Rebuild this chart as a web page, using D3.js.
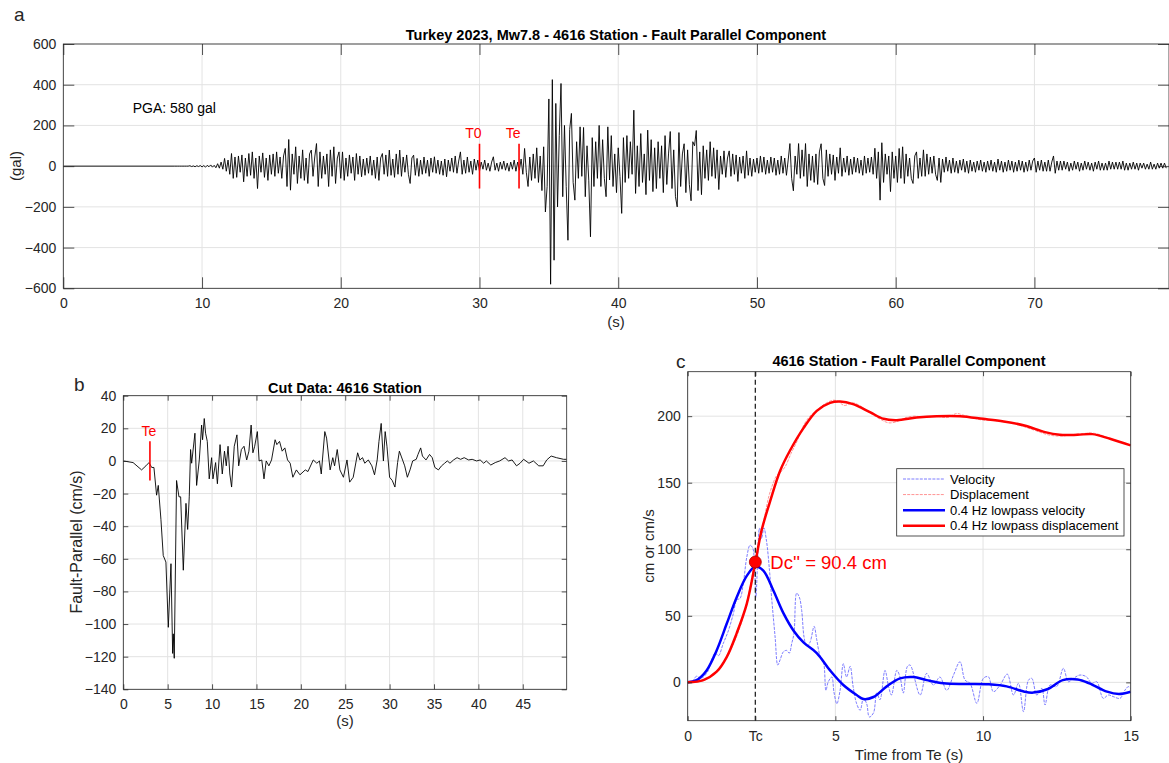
<!DOCTYPE html>
<html>
<head>
<meta charset="utf-8">
<script src="https://cdn.jsdelivr.net/npm/d3@7"></script>
<style>
  html, body { margin: 0; padding: 0; background: #fff; }
  svg { display: block; font-family: "Liberation Sans", Arial, Helvetica, sans-serif; }
  .tick text { fill: #262626; }
</style>
</head>
<body>
<svg id="fig" width="1169" height="763"></svg>
<script>
// ---- panel a: acceleration (gal), sampled every 0.125 s from t = 8 s ----
const accStart = 8;
const accStep = 0.125;
const accValues = [
  0,0,0,0,0,0,0,0,
  0,2,-2,1,-3,2,-2,3,
  -4,3,-5,4,-3,6,-5,4,
  -8,12,-10,20,-15,38,-25,30,
  -40,62,-60,45,-55,50,-30,55,
  -77,40,-50,62,-45,70,-60,40,
  -110,50,-30,65,-55,40,-70,55,
  -40,60,-50,70,-35,45,-60,50,
  87,-100,131,-118,60,-40,95,-85,
  50,-60,80,-70,40,-85,60,79,
  -50,45,111,-100,70,-60,50,-40,
  60,-100,80,-50,95,-85,40,70,
  -60,70,-70,40,-50,55,-35,45,
  -70,62,-40,50,-52,35,-45,40,
  -35,50,-45,30,-60,45,-70,40,
  62,-40,55,-50,79,-45,35,-55,
  60,-40,79,-50,45,-30,55,-40,
  -85,40,54,-45,38,-50,30,-40,
  45,-35,30,-50,40,-30,46,-35,
  30,-40,25,-45,35,-52,30,-25,
  40,-30,50,-35,25,70,-40,30,
  -35,45,-30,25,-40,35,-20,30,
  -25,20,-15,30,-20,15,-25,20,
  46,-20,15,-25,20,-15,25,-20,
  15,-25,20,-15,30,-25,20,-20,
  35,-40,87,-30,-100,45,-70,60,
  -60,90,-80,50,-120,95,-225,-100,
  330,-580,425,-462,308,-200,150,406,
  -150,200,-100,-364,180,259,-80,-167,
  120,-60,193,-50,190,-150,100,-69,
  -347,140,-100,120,-60,200,-100,130,
  -60,-150,193,-68,150,-100,60,-130,
  90,-50,-232,140,-80,150,-60,120,
  -40,275,-134,100,-100,160,-80,60,
  -140,177,-70,130,-125,90,-110,120,
  -60,100,-130,150,-90,60,170,-110,
  80,-150,-200,165,-100,60,110,-130,
  80,-90,-170,120,100,175,-120,70,
  -140,100,-60,80,-70,120,-50,90,
  -60,80,-115,50,-40,75,-55,40,
  75,-50,60,-40,55,-75,45,-35,
  50,-60,75,-45,40,-50,35,-30,
  40,-35,50,-30,45,-40,30,-35,
  45,-30,40,-45,30,-40,50,-35,
  40,-45,30,111,-60,-121,50,-40,
  111,-60,80,-50,111,-100,60,-70,
  50,-80,60,-90,70,110,-60,-95,
  80,-50,60,-40,55,-70,45,-35,
  90,-50,40,-30,50,-45,35,-40,
  45,-30,40,-35,30,-45,50,-35,
  40,-30,45,-40,88,-60,70,-167,
  115,-80,60,-40,50,-125,70,-60,
  50,-80,87,-60,95,-85,60,-50,
  40,-60,-85,50,70,-60,40,-50,
  80,-50,60,-40,45,-35,50,-40,
  -70,40,-80,35,-30,45,-25,30,
  -35,40,-30,25,-35,30,-20,35,
  -30,25,-35,30,-25,20,-30,25,
  -20,30,-25,20,-30,25,-20,30,
  -25,20,-30,35,-20,25,-30,20,
  -25,30,-20,25,-30,20,-25,30,
  -20,25,-30,20,-25,30,-20,25,
  40,-30,25,-20,30,-25,20,-25,
  30,-25,20,50,-35,25,-20,25,
  -20,25,-15,20,-25,15,-20,25,
  -15,20,-25,15,-20,25,-15,20,
  -20,15,-25,20,-15,25,-20,15,
  -20,15,-20,25,-15,20,-15,20,
  -15,20,-15,25,-20,15,-20,15,
  -15,20,-15,15,-20,15,-10,15,
  -15,10,-15,20,-15,10,-15,15,
  -10,15,-10,15,-10
];
const accMarkers = [{ name: "T0", t: 30 }, { name: "Te", t: 32.85 }];
const accXTicks = [0, 10, 20, 30, 40, 50, 60, 70];
const accYTicks = [-600, -400, -200, 0, 200, 400, 600];

// ---- panel b: cut velocity (cm/s) ----
const cutTime = [0,1.1,2.06,2.55,2.9,3.2,3.45,3.75,3.94,4.24,4.5,4.8,5.07,5.37,5.56,5.63,5.74,6.0,6.27,6.46,6.76,7.06,7.25,7.43,7.58,7.7,8.07,8.26,8.56,8.82,8.93,9.12,9.27,9.46,9.68,9.95,10.1,10.4,10.6,10.9,11.15,11.4,11.6,11.8,12.0,12.2,12.5,12.8,13.0,13.3,13.6,13.9,14.15,14.4,14.6,14.8,15.1,15.3,15.6,15.85,16.1,16.4,16.7,17.1,17.3,17.6,17.9,18.2,18.5,18.8,19.1,19.5,19.9,20.5,20.8,21.4,21.8,22.1,22.3,22.7,22.9,23.3,23.6,23.8,24.1,24.4,24.8,25.2,25.5,25.9,26.4,26.65,26.95,27.2,27.6,28.0,28.3,28.6,28.8,29.05,29.3,29.5,29.7,30.0,30.3,30.6,30.9,31.1,31.3,31.7,32.0,32.3,32.6,33.0,33.2,33.5,33.7,34.1,34.5,34.8,35.1,35.5,35.85,36.2,36.5,36.8,37.2,37.6,38.0,38.4,38.9,39.3,39.8,40.2,40.6,40.9,41.4,41.9,42.4,43.0,43.4,43.8,44.3,44.7,45.1,45.7,46.2,46.8,47.3,47.7,48.2,48.8,49.6,49.95];
const cutValue = [0,-1,-5.5,-3,-1,-4,-4,-21,-15,-36,-58,-62,-102,-63,-118,-106,-121,-12,-22,-22,-67,-26,-42,-22,7,-1.4,17,-15,0.6,22,13,26,17,12,-11,2,-11,-1,-14,10,-8,6,-3,9,-8,-16,9,16,-3,7,9,0.6,6,22,5,9,18,0,0.6,-11,0,-3,0.6,13,10,12,6,8,0.6,-1.4,-10,-5.5,-8.5,-5.5,-6.5,0.6,-1.4,0,-8,18,14,-5.5,2,-3,7,-5.5,-10,0.6,-13,-10,5,0.6,2,-1.4,0.6,-3,-8.5,0.6,12,23,0,18,9,-10,-12,-16,-1,6,3,-3,-10,-5.5,0,1,4,8,3,0.6,4,2,-4,-5.5,-3,-1.4,0,-1.4,0.6,2,1,2,0.6,1,0,0.6,-1.4,0,-2.5,-1,0,2,0,0.6,-3,-1.4,1,-1.4,0,-3,-3,0.6,3,2,1,1];
const cutTe = 3.0;
const cutXTicks = [0, 5, 10, 15, 20, 25, 30, 35, 40, 45];
const cutYTicks = [-140, -120, -100, -80, -60, -40, -20, 0, 20, 40];

// ---- panel c: time from Te (s) ----
const velRawT = [0,0.19,0.3,0.42,0.53,0.7,0.81,0.93,1.04,1.2,1.38,1.55,1.66,1.77,1.88,2.0,2.11,2.2,2.25,2.31,2.36,2.43,2.5,2.58,2.67,2.77,2.84,2.96,3.05,3.13,3.24,3.35,3.44,3.52,3.6,3.69,3.78,3.86,3.94,4.03,4.14,4.28,4.37,4.48,4.6,4.68,4.76,4.88,4.95,5.05,5.16,5.27,5.38,5.5,5.6,5.72,5.84,5.95,6.06,6.15,6.29,6.4,6.51,6.68,6.8,6.9,7.08,7.19,7.3,7.44,7.53,7.87,8.09,8.32,8.54,8.77,9.0,9.22,9.39,9.56,9.79,10.01,10.18,10.35,10.58,10.82,11.03,11.2,11.37,11.54,11.65,11.82,11.99,12.1,12.27,12.49,12.72,12.89,13.06,13.28,13.5,13.68,13.85,14.07,14.24,14.41,14.64,14.81,14.92,15.0];
const velRawV = [0,1.7,4.7,3,4,9,17,22,20,29,39,52,62,63,74,94,103,101,94,64,87,116,108,116,106,84,64,34,13,17,23,24,22,29,37,67,64,54,34,27,30,42,32,20,15,-6,0.5,4,-7,-16,-6,14,4,12,-3,-16,-21,-12,-16,-26,-23,-8,-13,9,-3,-9.5,9,4,-8,12,13,-9.5,6.7,-2,4,-6,5.5,15.5,1.7,-0.7,-15.7,3,4.2,-7,-2,6.2,-9.5,-0.7,-22,1.7,3,-9.5,-4.5,-17,-2,-3.2,10.5,0.5,3,5.5,4.2,-0.7,0.5,-12,-9.5,-10.7,-12,-5.7,-3.2,-4.5];
const dispRawT = [0,0.5,1.0,1.3,1.7,2.0,2.2,2.3,2.45,2.6,2.75,2.9,3.0,3.15,3.3,3.5,3.7,3.9,4.1,4.4,4.7,4.95,5.1,5.3,5.45,5.6,5.9,6.2,6.5,6.8,7.1,7.4,7.7,8.0,8.4,8.8,9.1,9.3,9.6,10.0,10.3,10.6,11.0,11.4,11.8,12.2,12.6,13.0,13.4,13.8,14.2,14.6,15.0];
const dispRawV = [0,1,8,18,37,60,82,92,108,124,140,150,155,158,162,172,181,192,199,205,210,212,211,208,209,210,207,202,198,195,196,199,200,199,200,199,202,201,199,197,197,196,195,192,189,186,185,186,187,187,184,181,178];
const velLpT = [0,0.3,0.64,0.98,1.32,1.66,2.0,2.29,2.56,2.9,3.24,3.58,3.92,4.37,4.82,5.27,5.72,5.95,6.29,6.74,7.19,7.64,8.09,8.66,9.44,10.2,10.8,11.4,11.7,12.2,12.7,13.2,13.6,14.2,14.6,15.0];
const velLpV = [0,1.7,9,24,44,64,80,87,84,69,52,39,30,22,9,-2,-9.5,-12.5,-11,-3,3,4,1.7,-0.7,-1.2,-1.5,-3,-7,-7.7,-5,1.7,2.2,-0.7,-7,-8.7,-7];
const dispLpT = [0,0.53,0.98,1.32,1.66,2.0,2.29,2.5,2.79,3.13,3.46,3.92,4.37,4.82,5.16,5.6,6.17,6.63,7.08,7.75,8.43,9.22,10.0,10.7,11.4,12.1,12.6,13.2,13.7,14.3,15.0];
const dispLpV = [0,1.7,8,19,37,59,90,114,136,159,174,191,204,210,211,209,203,198,197,199,200,200,198,196,193,188,186,186,186.5,183,178];
const Tc = 2.29;
const DcValue = 90.4;
const cXTicks = [0, 5, 10, 15];
const cYTicks = [0, 50, 100, 150, 200];
const legendNames = ["Velocity", "Displacement", "0.4 Hz lowpass velocity", "0.4 Hz lowpass displacement"];

const svg = d3.select("#fig");
const AX = "#262626";
const GRID = "#e3e3e3";
const FONT = "Liberation Sans, Arial, Helvetica, sans-serif";

function panel(id, box, xDom, yDom, xTicks, yTicks, tickLen, opts = {}) {
  const x = d3.scaleLinear().domain(xDom).range([box.l, box.r]);
  const y = d3.scaleLinear().domain(yDom).range([box.b, box.t]);
  const g = svg.append("g");
  const w = box.r - box.l, h = box.b - box.t;

  g.append("clipPath").attr("id", "clip-" + id)
    .append("rect").attr("x", box.l).attr("y", box.t).attr("width", w).attr("height", h);

  const gridX = opts.gridX || xTicks;
  g.append("g").selectAll("line").data(gridX).join("line")
    .attr("x1", d => x(d)).attr("x2", d => x(d)).attr("y1", box.t).attr("y2", box.b)
    .attr("stroke", GRID).attr("stroke-width", 1);
  g.append("g").selectAll("line").data(yTicks).join("line")
    .attr("y1", d => y(d)).attr("y2", d => y(d)).attr("x1", box.l).attr("x2", box.r)
    .attr("stroke", GRID).attr("stroke-width", 1);

  const plot = g.append("g").attr("clip-path", `url(#clip-${id})`);
  const over = g.append("g");

  const axes = g.append("g");
  const fmt = opts.xFormat || (d => d);
  const xb = axes.append("g").attr("transform", `translate(0,${box.b})`)
    .call(d3.axisBottom(x).tickValues(xTicks).tickFormat(fmt).tickSize(-tickLen).tickSizeOuter(0).tickPadding(10));
  const xt = axes.append("g").attr("transform", `translate(0,${box.t})`)
    .call(d3.axisTop(x).tickValues(xTicks).tickFormat("").tickSize(-tickLen).tickSizeOuter(0));
  const yl = axes.append("g").attr("transform", `translate(${box.l},0)`)
    .call(d3.axisLeft(y).tickValues(yTicks).tickSize(-tickLen).tickSizeOuter(0).tickPadding(7));
  const yr = axes.append("g").attr("transform", `translate(${box.r},0)`)
    .call(d3.axisRight(y).tickValues(yTicks).tickFormat("").tickSize(-tickLen).tickSizeOuter(0));
  [xb, xt, yl, yr].forEach(a => {
    a.attr("font-size", 14).attr("font-family", FONT);
    a.select(".domain").remove();
    a.selectAll(".tick line").attr("stroke", AX).attr("stroke-width", 0.8);
    a.selectAll(".tick text").attr("fill", AX);
  });
  axes.append("rect").attr("x", box.l).attr("y", box.t).attr("width", w).attr("height", h)
    .attr("fill", "none").attr("stroke", AX).attr("stroke-width", 0.8);

  return { x, y, g, plot, over, box };
}

function title(text, cx, y) {
  svg.append("text").attr("x", cx).attr("y", y).attr("text-anchor", "middle")
    .attr("font-size", 14.5).attr("font-weight", "bold").attr("fill", "#000").text(text);
}
function label(text, cx, y, rot, size = 15) {
  const t = svg.append("text").attr("text-anchor", "middle").attr("font-size", size).attr("fill", AX).text(text);
  if (rot) t.attr("transform", `translate(${cx},${y}) rotate(-90)`);
  else t.attr("x", cx).attr("y", y);
}

// ===== panel a =====
const A = panel("a", { l: 63.3, r: 1169, t: 44, b: 288.3 }, [0, 79.7], [-600, 600], accXTicks, accYTicks, 11);
const accPts = [[0, 0]].concat(accValues.map((v, i) => [accStart + i * accStep, v]));
A.plot.append("path").datum(accPts)
  .attr("fill", "none").attr("stroke", "#000").attr("stroke-width", 0.9).attr("stroke-linejoin", "round")
  .attr("d", d3.line().x(d => A.x(d[0])).y(d => A.y(d[1])));
accMarkers.forEach(m => {
  A.over.append("line").attr("x1", A.x(m.t)).attr("x2", A.x(m.t)).attr("y1", A.y(110)).attr("y2", A.y(-110))
    .attr("stroke", "#ff0000").attr("stroke-width", 1.6);
  A.over.append("text").attr("x", A.x(m.t) - 6).attr("y", A.y(140)).attr("text-anchor", "middle")
    .attr("font-size", 14).attr("fill", "#ff0000").text(m.name);
});
A.over.append("text").attr("x", A.x(5)).attr("y", A.y(285) + 5).attr("font-size", 14).attr("fill", "#000").text("PGA: 580 gal");
title("Turkey 2023, Mw7.8 - 4616 Station - Fault Parallel Component", 616, 40);
label("(gal)", 21, 166, true);
label("(s)", 616, 327, false);
svg.append("text").attr("x", 14).attr("y", 21).attr("font-size", 19).attr("fill", AX).text("a");

// ===== panel b =====
const B = panel("b", { l: 123.3, r: 566.7, t: 395.7, b: 689.3 }, [0, 49.95], [-140, 40], cutXTicks, cutYTicks, 5);
B.plot.append("path").datum(cutTime.map((t, i) => [t, cutValue[i]]))
  .attr("fill", "none").attr("stroke", "#000").attr("stroke-width", 0.9).attr("stroke-linejoin", "round")
  .attr("d", d3.line().x(d => B.x(d[0])).y(d => B.y(d[1])));
B.over.append("line").attr("x1", B.x(cutTe)).attr("x2", B.x(cutTe)).attr("y1", B.y(12)).attr("y2", B.y(-12))
  .attr("stroke", "#ff0000").attr("stroke-width", 1.6);
B.over.append("text").attr("x", B.x(cutTe) - 1).attr("y", B.y(15)).attr("text-anchor", "middle")
  .attr("font-size", 14).attr("fill", "#ff0000").text("Te");
title("Cut Data: 4616 Station", 345, 393);
label("Fault-Parallel (cm/s)", 82, 542, true, 16);
label("(s)", 345, 726, false);
svg.append("text").attr("x", 74).attr("y", 391).attr("font-size", 19).attr("fill", AX).text("b");

// ===== panel c =====
const C = panel("c", { l: 687.7, r: 1130.7, t: 371.7, b: 720.7 }, [0, 15], [-28.8, 233.4],
  [0, Tc, 5, 10, 15], cYTicks, 4.5,
  { gridX: cXTicks, xFormat: d => (d === Tc ? "Tc" : d) });
const lineC = d3.line().x(d => C.x(d[0])).y(d => C.y(d[1])).curve(d3.curveCatmullRom);
const zip = (t, v) => t.map((d, i) => [d, v[i]]);
C.plot.append("path").datum(zip(velRawT, velRawV))
  .attr("fill", "none").attr("stroke", "#5c5cff").attr("stroke-width", 0.8).attr("stroke-dasharray", "3,1.2").attr("d", lineC);
C.plot.append("path").datum(zip(dispRawT, dispRawV))
  .attr("fill", "none").attr("stroke", "#ff7a7a").attr("stroke-width", 0.8).attr("stroke-dasharray", "3,1.2").attr("d", lineC);
C.plot.append("path").datum(zip(velLpT, velLpV))
  .attr("fill", "none").attr("stroke", "#0000ff").attr("stroke-width", 2.5).attr("d", lineC);
C.plot.append("path").datum(zip(dispLpT, dispLpV))
  .attr("fill", "none").attr("stroke", "#ff0000").attr("stroke-width", 2.5).attr("d", lineC);
C.over.append("line").attr("x1", C.x(Tc)).attr("x2", C.x(Tc)).attr("y1", C.box.t).attr("y2", C.box.b)
  .attr("stroke", "#262626").attr("stroke-width", 1.3).attr("stroke-dasharray", "5,3");
C.over.append("circle").attr("cx", C.x(Tc)).attr("cy", C.y(DcValue)).attr("r", 6)
  .attr("fill", "#ff0000").attr("stroke", "#b30000").attr("stroke-width", 0.8);
C.over.append("text").attr("x", C.x(Tc) + 15).attr("y", C.y(DcValue) + 7)
  .attr("font-size", 18.5).attr("fill", "#ff0000").text("Dc'' = 90.4 cm");

// legend
const lg = svg.append("g");
lg.append("rect").attr("x", 896.7).attr("y", 468.7).attr("width", 227.3).attr("height", 67.3)
  .attr("fill", "#fff").attr("stroke", AX).attr("stroke-width", 0.8);
const legStyle = [
  { c: "#5c5cff", w: 0.8, dash: "3,1.2" },
  { c: "#ff7a7a", w: 0.8, dash: "3,1.2" },
  { c: "#0000ff", w: 2.5, dash: null },
  { c: "#ff0000", w: 2.5, dash: null }
];
const legY = d3.scalePoint().domain(legendNames).range([479, 525.7]);
legendNames.forEach((n, i) => {
  const s = legStyle[i];
  lg.append("line").attr("x1", 903).attr("x2", 945).attr("y1", legY(n)).attr("y2", legY(n))
    .attr("stroke", s.c).attr("stroke-width", s.w).attr("stroke-dasharray", s.dash);
  lg.append("text").attr("x", 950).attr("y", legY(n) + 4.5).attr("font-size", 13).attr("fill", "#000").text(n);
});
title("4616 Station - Fault Parallel Component", 909, 366);
label("cm or cm/s", 654, 546, true);
label("Time from Te (s)", 909, 760, false);
svg.append("text").attr("x", 676).attr("y", 368).attr("font-size", 19).attr("fill", AX).text("c");
</script>
</body>
</html>
